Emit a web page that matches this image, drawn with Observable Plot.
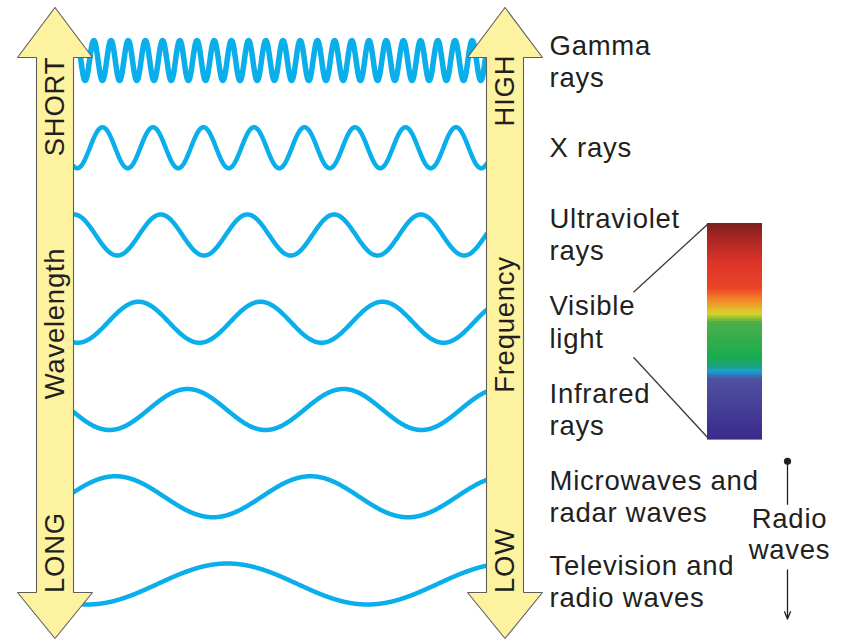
<!DOCTYPE html>
<html><head><meta charset="utf-8">
<script src="https://cdn.jsdelivr.net/npm/d3@7"></script>
<script src="https://cdn.jsdelivr.net/npm/@observablehq/plot@0.6"></script>
<style>
  html,body{margin:0;padding:0;background:#fff}
  svg{display:block}
  #chart text{letter-spacing:0.75px}
</style>
</head><body><div id="chart"></div>
<script>
// ---- data ----
const bands = ["Gamma rays","X rays","Ultraviolet rays","Visible light","Infrared rays","Microwaves and radar waves","Television and radio waves"];
const bandLabels = ["Gamma\nrays","X rays","Ultraviolet\nrays","Visible\nlight","Infrared\nrays","Microwaves and\nradar waves","Television and\nradio waves"];
const waveLengthsPx = [17.2, 50.5, 86.7, 122, 156, 195, 280];   // drawn wavelength of each wave
const wavePeakPx = [93.3, 102, 73.5, 138, 187, 115, 227];        // x of one crest
const wavelengthAxisLabels = ["SHORT","Wavelength","LONG"];
const frequencyAxisLabels = ["HIGH","Frequency","LOW"];
const spectrumStops = [0, 0.06, 0.18, 0.30, 0.36, 0.42, 0.46, 0.62, 0.665, 0.685, 0.72, 1];
const spectrumColors = ["#7a1e1b","#a52524","#dc3428","#ea4426","#f28b26","#d3d52e","#4cae4a","#1aac50","#1a9f86","#1ba1d8","#4f52a0","#3c2a8c"];
const radioLabel = "Radio\nwaves";

// ---- layout ----
const W = 846, H = 640;
const rowY = d3.scalePoint().domain(bands).range([60, 583.5]);
const waveX0 = 73, waveX1 = 486, amp = 20.5;
const labelX = 549;
const leftC = 54.5, rightC = 504.5;
const headHalf = 37.5, shaftHalf = 18.5;
const tipTop = 7, baseTop = 57, baseBot = 592, tipBot = 638;
const bar = {x1: 707, x2: 762, y1: 223, y2: 439};
const ink = "#231f20";
const fs = 27.5;

const waveData = [];
bands.forEach((b, i) => {
  const cy = rowY(b), lam = waveLengthsPx[i], p = wavePeakPx[i];
  const a = i === 0 ? 20 : amp;
  for (let x = waveX0; x <= waveX1; x += 0.5) {
    waveData.push({band: b, x, y: cy - a * Math.cos(2 * Math.PI * (x - p) / lam)});
  }
});

function arrowShape(c) {
  return [
    [c, tipTop], [c + headHalf, baseTop], [c + shaftHalf, baseTop], [c + shaftHalf, baseBot],
    [c + headHalf, baseBot], [c, tipBot], [c - headHalf, baseBot], [c - shaftHalf, baseBot],
    [c - shaftHalf, baseTop], [c - headHalf, baseTop], [c, tipTop]
  ].map(([x, y]) => ({x, y}));
}

const specColor = d3.scaleLinear().domain(spectrumStops).range(spectrumColors).interpolate(d3.interpolateRgb);
const nSlices = 108;
const sliceH = (bar.y2 - bar.y1) / nSlices;
const slices = d3.range(nSlices).map(k => ({
  y1: bar.y1 + k * sliceH, y2: bar.y1 + (k + 1) * sliceH + 0.6,
  fill: specColor((k + 0.5) / nSlices)
}));

const visY = rowY("Visible light");
const connectors = [
  {x1: labelX + 84, y1: visY - 30, x2: bar.x1 + 1, y2: bar.y1},
  {x1: labelX + 84, y1: visY + 35, x2: bar.x1 + 1, y2: bar.y2 - 1}
];

const radioX = 788;
const microY = rowY("Microwaves and radar waves");
const tvY = rowY("Television and radio waves");

const sideLabels = [
  {t: wavelengthAxisLabels[0], x: leftC, y: 106},
  {t: wavelengthAxisLabels[1], x: leftC, y: 323},
  {t: wavelengthAxisLabels[2], x: leftC, y: 552},
  {t: frequencyAxisLabels[0], x: rightC, y: 90},
  {t: frequencyAxisLabels[1], x: rightC, y: 324},
  {t: frequencyAxisLabels[2], x: rightC, y: 560}
];

const chart = Plot.plot({
  width: W, height: H,
  margin: 0,
  style: {fontFamily: "'Liberation Sans', Arial, Helvetica, sans-serif", background: "#fff"},
  x: {domain: [0, W], range: [0, W], axis: null},
  y: {domain: [0, H], range: [0, H], axis: null},
  marks: [
    Plot.line(waveData.filter(d => d.band !== bands[0]), {x: "x", y: "y", z: "band", stroke: "#0aaeea", strokeWidth: 4.5, curve: "linear"}),
    Plot.line(waveData.filter(d => d.band === bands[0]), {x: "x", y: "y", stroke: "#0aaeea", strokeWidth: 5.5}),
    Plot.line(arrowShape(leftC), {x: "x", y: "y", fill: "#fcf29f", stroke: "#5e5e5e", strokeWidth: 1.1, strokeLinejoin: "miter"}),
    Plot.line(arrowShape(rightC), {x: "x", y: "y", fill: "#fcf29f", stroke: "#5e5e5e", strokeWidth: 1.1, strokeLinejoin: "miter"}),
    Plot.text(sideLabels, {x: "x", y: "y", text: "t", rotate: -90, fontSize: fs, fill: ink, textAnchor: "middle", lineAnchor: "middle"}),
    Plot.text(bands, {
      x: labelX, y: (d, i) => rowY(d) - 1 + (i === 0 ? 1.5 : i === 6 ? -2 : 0),
      text: (d, i) => bandLabels[i], textAnchor: "start", lineAnchor: "middle",
      fontSize: fs, lineHeight: 1.17, fill: ink
    }),
    Plot.rect(slices, {x1: bar.x1, x2: bar.x2, y1: "y1", y2: "y2", fill: "fill"}),
    Plot.link(connectors, {x1: "x1", y1: "y1", x2: "x2", y2: "y2", stroke: "#3a3a3a", strokeWidth: 1.3}),
    Plot.link([{y1: microY - 35.5, y2: microY + 8}], {x1: radioX - 1, x2: radioX - 1, y1: "y1", y2: "y2", stroke: ink, strokeWidth: 1.3}),
    Plot.dot([{y: microY - 35.5}], {x: radioX - 1, y: "y", r: 3.6, fill: ink, stroke: null}),
    Plot.text([radioLabel], {x: radioX + 1, y: (microY + tvY) / 2 - 7, text: d => d, textAnchor: "middle", lineAnchor: "middle", fontSize: fs, lineHeight: 1.15, fill: ink}),
    Plot.arrow([{y1: tvY - 14, y2: tvY + 35}], {x1: radioX - 1, x2: radioX - 1, y1: "y1", y2: "y2", stroke: ink, strokeWidth: 1.3, headLength: 9, headAngle: 45})
  ]
});
document.getElementById("chart").appendChild(chart);
</script>
</body></html>
